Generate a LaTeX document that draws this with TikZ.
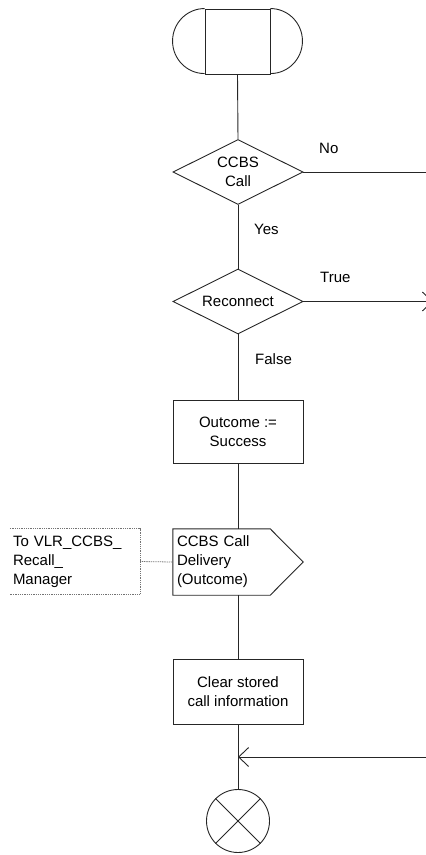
\documentclass[tikz,border=0pt]{standalone}
\usepackage{fontspec}
\setmainfont{Liberation Sans}
\usetikzlibrary{shapes.geometric,arrows.meta,calc}
\tikzset{
  ln/.style={line width=0.9pt, draw=black!85},
  box/.style={rectangle, ln, minimum width=130pt, minimum height=65pt, inner sep=0pt, align=center},
  dec/.style={diamond, ln, aspect=2, minimum width=130pt, minimum height=65pt, inner sep=0pt, align=center},
  lbl/.style={anchor=west, inner sep=0pt},
  cmtline/.style={line width=0.8pt, draw=black!55, dash pattern=on 1pt off 0.8pt},
  tip/.style={-{Straight Barb[length=10pt,width=19pt]}}
}
\begin{document}
\begin{tikzpicture}[x=1pt,y=-1pt, font=\fontsize{15}{19}\selectfont]
\useasboundingbox (0,0) rectangle (426,855);
% start terminal
\node[rectangle, ln, minimum width=65pt, minimum height=65pt, inner sep=0pt] (start) at (237.5,41.5) {};
\draw[ln] (start.north west) arc[start angle=90, end angle=270, x radius=32pt, y radius=32.5pt];
\draw[ln] (start.north east) arc[start angle=90, end angle=-90, x radius=32pt, y radius=32.5pt];
% decisions
\node[dec] (d1) at (238,172) {CCBS\\Call};
\node[dec] (d2) at (238,301.5) {Reconnect};
\node[box, minimum height=63pt] (outc) at (238,431.5) {Outcome :=\\Success};
% output signal
\node[rectangle, minimum width=130pt, minimum height=66pt, inner xsep=4pt, inner ysep=0pt, text width=122pt, align=left] (sig) at (238,562) {CCBS Call\\Delivery\\(Outcome)};
\draw[ln] (sig.north west) -- ($(sig.north east)+(-33,0)$) -- (sig.east) -- ($(sig.south east)+(-33,0)$) -- (sig.south west) -- cycle;
% comment
\node[rectangle, minimum width=130pt, minimum height=65pt, inner xsep=3pt, inner ysep=0pt, text width=124pt, align=left] (cmt) at (75,561.5) {To VLR\_CCBS\_\\Recall\_\\Manager};
\draw[cmtline] (cmt.north west) -- (cmt.north east) -- (cmt.south east) -- (cmt.south west);
\draw[cmtline] (cmt.east) -- (sig.west);
% task
\node[box] (clr) at (238,691.5) {Clear stored\\call information};
% stop
\node[circle, ln, minimum size=63pt, inner sep=0pt] (stop) at (238,821) {};
\draw[ln] (stop.45) -- (stop.225);
\draw[ln] (stop.135) -- (stop.-45);
% connectors
\draw[ln] (start.south) -- (d1.north);
\draw[ln] (d1.south) -- (d2.north);
\draw[ln] (d2.south) -- (outc.north);
\draw[ln] (outc.south) -- (sig.north);
\draw[ln] (sig.south) -- (clr.north);
\draw[ln] (clr.south) -- (stop.north);
\coordinate (noEnd) at (426,172);
\draw[ln] (d1.east) -- (noEnd);
\coordinate (trueEnd) at (433,301.5);
\draw[ln, tip] (d2.east) -- (trueEnd);
\coordinate (joinR) at (426,757);
\coordinate (join) at (238,757);
\draw[ln, tip] (joinR) -- (join);
% labels
\node[lbl] (lno) at (319,148) {No};
\node[lbl] (lyes) at (254,229) {Yes};
\node[lbl] (ltrue) at (320,277) {True};
\node[lbl] (lfalse) at (255,359) {False};
\end{tikzpicture}
\end{document}
